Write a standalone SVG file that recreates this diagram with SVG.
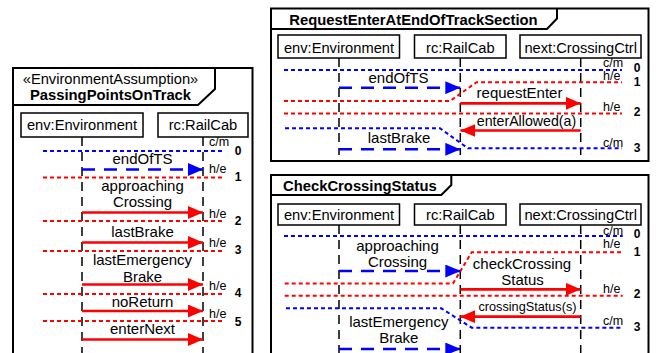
<svg xmlns="http://www.w3.org/2000/svg" width="659" height="353" viewBox="0 0 659 353">
<style>
text{font-family:"Liberation Sans",Arial,sans-serif;fill:#000}
.lbl{font-size:15px;text-anchor:middle}
.nm{font-size:14.7px;text-anchor:middle}
.sm{font-size:12.5px}
.num{font-size:12px;font-weight:bold;text-anchor:middle}
.ttl{font-size:14.8px;font-weight:bold}
.frame{fill:#fff;stroke:#000;stroke-width:2}
.tab{fill:none;stroke:#000;stroke-width:2}
.box{fill:#fff;stroke:#000;stroke-width:1.5}
.life{stroke:#000;stroke-width:1.5;stroke-dasharray:9,6;fill:none}
.bdot{stroke:#00f;stroke-width:2;stroke-dasharray:4,3;fill:none}
.rdot{stroke:#f00;stroke-width:2;stroke-dasharray:4,3;fill:none}
.bmsg{stroke:#00f;stroke-width:2.5;stroke-dasharray:13,9;fill:none;marker-end:url(#ahb)}
.rmsg{stroke:#f00;stroke-width:2.7;fill:none;marker-end:url(#ahr)}
</style>
<defs>
<marker id="ahb" viewBox="0 0 15 13" refX="15" refY="6.5" markerWidth="15" markerHeight="13" markerUnits="userSpaceOnUse" orient="auto"><path d="M0,0 L15,6.5 L0,13 z" fill="#00f"/></marker>
<marker id="ahr" viewBox="0 0 15 13" refX="15" refY="6.5" markerWidth="15" markerHeight="13" markerUnits="userSpaceOnUse" orient="auto"><path d="M0,0 L15,6.5 L0,13 z" fill="#f00"/></marker>
</defs>
<rect width="659" height="353" fill="#fff"/>

<!-- ===== PassingPointsOnTrack ===== -->
<g id="ppot">
<rect class="frame" x="13" y="68" width="239.5" height="320"/>
<path class="tab" d="M215,68 V89 L198,105 H13"/>
<text class="nm" x="110.5" y="84">«EnvironmentAssumption»</text>
<text class="ttl" x="110.5" y="100" text-anchor="middle">PassingPointsOnTrack</text>
</g>
<g id="ppot-env">
<rect class="box" x="21" y="113" width="122" height="24"/>
<text class="nm" x="82" y="130">env:Environment</text>
<path class="life" d="M82,137 V353"/>
</g>
<g id="ppot-rc">
<rect class="box" x="158" y="113" width="90" height="24"/>
<text class="nm" x="203" y="130">rc:RailCab</text>
<path class="life" d="M203,137 V353"/>
</g>
<g id="ppot-conn">
<path class="bdot" d="M43,151 H224"/>
<path class="rdot" d="M43,177.5 H224"/>
<path class="rdot" d="M43,221 H224"/>
<path class="rdot" d="M43,251 H224"/>
<path class="rdot" d="M43,294 H224"/>
<path class="rdot" d="M43,321 H224"/>
<path class="bmsg" d="M82,169.5 H203"/>
<path class="rmsg" d="M82,212.5 H203"/>
<path class="rmsg" d="M82,242.5 H203"/>
<path class="rmsg" d="M82,284.5 H203"/>
<path class="rmsg" d="M82,311 H203"/>
<path class="rmsg" d="M82,339.5 H203"/>
<text class="lbl" x="142.5" y="164">endOfTS</text>
<text class="lbl" x="142.5" y="191">approaching</text>
<text class="lbl" x="142.5" y="206.5">Crossing</text>
<text class="lbl" x="142.5" y="237">lastBrake</text>
<text class="lbl" x="142.5" y="265">lastEmergency</text>
<text class="lbl" x="142.5" y="281.5">Brake</text>
<text class="lbl" x="142.5" y="307">noReturn</text>
<text class="lbl" x="142.5" y="334">enterNext</text>
<text class="sm" x="209" y="146">c/m</text>
<text class="sm" x="209" y="172.5">h/e</text>
<text class="sm" x="209" y="218">h/e</text>
<text class="sm" x="209" y="246.5">h/e</text>
<text class="sm" x="209" y="290">h/e</text>
<text class="sm" x="209" y="318">h/e</text>
<text class="num" x="238" y="155">0</text>
<text class="num" x="238" y="181">1</text>
<text class="num" x="238" y="225">2</text>
<text class="num" x="238" y="254">3</text>
<text class="num" x="238" y="297">4</text>
<text class="num" x="238" y="325.5">5</text>
</g>

<!-- ===== RequestEnterAtEndOfTrackSection ===== -->
<g id="reaets">
<rect class="frame" x="271" y="8.5" width="377.5" height="152.5"/>
<path class="tab" d="M557,8.5 V18.5 L547,29 H271"/>
<text class="ttl" x="413.5" y="25" text-anchor="middle">RequestEnterAtEndOfTrackSection</text>
</g>
<g id="reaets-env">
<rect class="box" x="278" y="35" width="121.5" height="23"/>
<text class="nm" x="339" y="52.5">env:Environment</text>
<path class="life" d="M339,58 V155"/>
</g>
<g id="reaets-rc">
<rect class="box" x="414.5" y="35" width="91.5" height="23"/>
<text class="nm" x="460.3" y="52.5">rc:RailCab</text>
<path class="life" d="M460.3,58 V155"/>
</g>
<g id="reaets-next">
<rect class="box" x="520" y="35" width="121" height="23"/>
<text class="nm" x="580.7" y="52.5">next:CrossingCtrl</text>
<path class="life" d="M580.7,58 V155"/>
</g>
<g id="reaets-conn">
<path class="bdot" d="M284,70 H622"/>
<path class="rdot" d="M284,101 H450 L476.5,82.3 H622"/>
<path class="rdot" d="M284,113.5 H622"/>
<path class="bdot" d="M285,128.3 H440 L468,148.3 H622"/>
<path class="bmsg" d="M339,87.7 H460.3"/>
<path class="rmsg" d="M460.3,103.3 H580.7"/>
<path class="rmsg" d="M580.7,130.5 H460.3"/>
<path class="bmsg" d="M339,149.3 H460.3"/>
<text class="lbl" x="398.5" y="83">endOfTS</text>
<text class="lbl" x="519.5" y="98">requestEnter</text>
<text class="lbl" x="526.5" y="126" style="font-size:14.2px">enterAllowed(a)</text>
<text class="lbl" x="399" y="143.3">lastBrake</text>
<text class="sm" x="603" y="67">c/m</text>
<text class="sm" x="603" y="80">h/e</text>
<text class="sm" x="603" y="111">h/e</text>
<text class="sm" x="603" y="146.7">c/m</text>
<text class="num" x="637" y="71.7">0</text>
<text class="num" x="637" y="86">1</text>
<text class="num" x="637" y="115.7">2</text>
<text class="num" x="637" y="152.3">3</text>
</g>

<!-- ===== CheckCrossingStatus ===== -->
<g id="ccs">
<rect class="frame" x="271" y="175" width="377.5" height="220"/>
<path class="tab" d="M451.3,175 V185 L441.3,195 H271"/>
<text class="ttl" x="283" y="190.7">CheckCrossingStatus</text>
</g>
<g id="ccs-env">
<rect class="box" x="278" y="204" width="121.5" height="21"/>
<text class="nm" x="339" y="219.5">env:Environment</text>
<path class="life" d="M339,225 V353"/>
</g>
<g id="ccs-rc">
<rect class="box" x="414.5" y="204" width="91.5" height="21"/>
<text class="nm" x="460.3" y="219.5">rc:RailCab</text>
<path class="life" d="M460.3,225 V353"/>
</g>
<g id="ccs-next">
<rect class="box" x="520" y="204" width="121" height="21"/>
<text class="nm" x="580.7" y="219.5">next:CrossingCtrl</text>
<path class="life" d="M580.7,225 V353"/>
</g>
<g id="ccs-conn">
<path class="bdot" d="M284,236 H622.7"/>
<path class="rdot" d="M284.7,283.5 H453 L471.7,252.3 H622.7"/>
<path class="rdot" d="M284.7,295.7 H622.7"/>
<path class="bdot" d="M286,308.3 H441.3 L471.7,327.7 H622.7"/>
<path class="bmsg" d="M339,271 H460.3"/>
<path class="rmsg" d="M460.3,289.3 H580.7"/>
<path class="rmsg" d="M580.7,316.7 H460.3"/>
<path class="bmsg" d="M339,349 H460.3"/>
<text class="lbl" x="397.5" y="250.8">approaching</text>
<text class="lbl" x="397.5" y="266.8">Crossing</text>
<text class="lbl" x="522" y="269.3">checkCrossing</text>
<text class="lbl" x="522.5" y="285">Status</text>
<text class="lbl" x="527.5" y="310.7" style="font-size:12.7px">crossingStatus(s)</text>
<text class="lbl" x="398.8" y="327.4">lastEmergency</text>
<text class="lbl" x="398.8" y="343.4">Brake</text>
<text class="sm" x="603" y="235">c/m</text>
<text class="sm" x="603" y="248.3">h/e</text>
<text class="sm" x="603" y="292.7">h/e</text>
<text class="sm" x="603" y="325">c/m</text>
<text class="num" x="637" y="238.3">0</text>
<text class="num" x="637" y="256">1</text>
<text class="num" x="637" y="298.3">2</text>
<text class="num" x="637" y="330.7">3</text>
</g>
</svg>
